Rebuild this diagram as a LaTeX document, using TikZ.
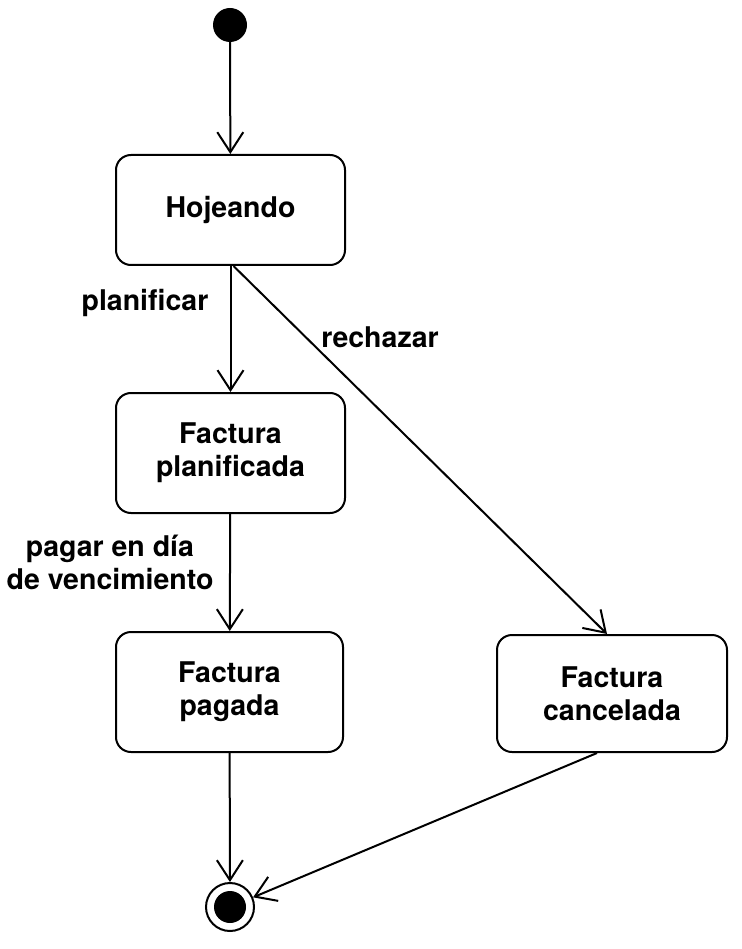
\documentclass[tikz,border=0pt]{standalone}
\usepackage{fontspec}
\setmainfont{TeX Gyre Heros}
\usepackage{tikz}
\usetikzlibrary{arrows.meta, positioning}

\begin{document}
\begin{tikzpicture}[x=1pt, y=-1pt]
    % Styles
    \tikzstyle{state} = [rectangle, draw, line width=2pt, rounded corners=15pt, text centered, align=center, minimum width=229pt, minimum height=115pt, font=\fontsize{28.5}{33}\selectfont\bfseries]
    \tikzstyle{label} = [align=center, font=\fontsize{28.5}{33}\selectfont\bfseries]
    \tikzstyle{arrow} = [line width=2pt, -{Straight Barb[length=20pt, width=26pt, line width=2pt]}]

    \useasboundingbox (0,0) rectangle (741,949);

    % Nodes
    \node [circle, fill=black, minimum size=34pt, inner sep=0pt] (start) at (230,25) {};
    \node [state, minimum height=110pt] (hoj) at (230.5,210) {Hojeando};
    \node [state, minimum height=120pt] (plan) at (230.5,453) {Factura\\planificada};
    \node [state, minimum height=120pt, minimum width=227pt] (pag) at (229.5,692) {Factura\\pagada};
    \node [state, minimum height=117pt, minimum width=230pt] (canc) at (612,693.5) {Factura\\cancelada};
    \node [circle, draw, line width=2pt, minimum size=48pt, inner sep=0pt] (end) at (230,907) {};
    \node [circle, fill=black, minimum size=32pt, inner sep=0pt] (endin) at (end) {};

    % Labels
    \node [label] (lplan) at (145,303) {planificar};
    \node [label] (lrech) at (380,337) {rechazar};
    \node [label] (lpagar) at (110,562) {pagar en día\\de vencimiento};

    % Arrows
    \draw [arrow] (start) -- (hoj);
    \draw [arrow] (hoj) -- (plan);
    \draw [arrow] ([xshift=3pt]hoj.south) -- ([xshift=-5pt]canc.north);
    \draw [arrow] (plan) -- (pag);
    \draw [arrow] (pag) -- (end);
    \draw [arrow] ([xshift=-15pt]canc.south) -- (end);
\end{tikzpicture}
\end{document}
